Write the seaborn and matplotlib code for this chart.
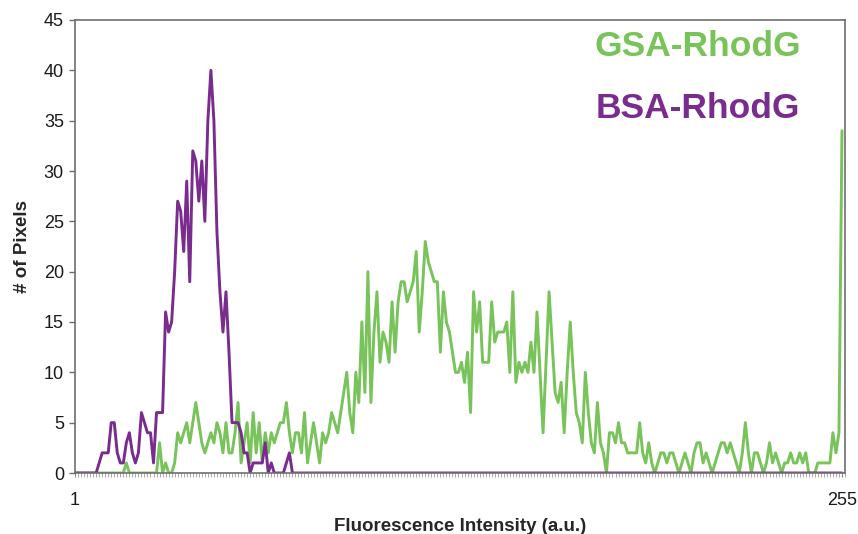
import numpy as np
import pandas as pd
import matplotlib
matplotlib.use("Agg")
import matplotlib.pyplot as plt
from matplotlib.ticker import MultipleLocator
import seaborn as sns

# ---- data ----
intensity = list(range(1, 256))

gsa_rhodg = [
    0, 0, 0, 0, 0, 0, 0, 0, 0, 0,
    0, 0, 0, 0, 0, 0, 0, 1, 0, 0,
    0, 0, 0, 0, 0, 0, 0, 0, 3, 0,
    1, 0, 0, 1, 4, 3, 4, 5, 3, 5,
    7, 5, 3, 2, 3, 4, 3, 5, 4, 2,
    5, 2, 2, 4, 7, 1, 3, 5, 1, 6,
    2, 5, 1, 4, 2, 4, 3, 4, 5, 5,
    7, 4, 2, 4, 4, 2, 6, 1, 3, 5,
    3, 1, 4, 3, 4, 6, 5, 4, 6, 8,
    10, 6, 4, 10, 7, 15, 8, 20, 7, 14,
    18, 11, 14, 13, 11, 17, 12, 17, 19, 19,
    17, 18, 19, 22, 14, 18, 23, 21, 20, 19,
    19, 12, 18, 15, 14, 12, 10, 10, 11, 9,
    12, 6, 18, 14, 17, 11, 11, 11, 17, 13,
    14, 14, 14, 15, 10, 18, 9, 11, 10, 11,
    10, 13, 10, 16, 10, 4, 11, 18, 13, 8,
    7, 9, 4, 10, 15, 10, 6, 5, 3, 10,
    6, 3, 2, 7, 3, 2, 0, 4, 4, 3,
    5, 3, 3, 2, 2, 2, 2, 5, 2, 1,
    3, 1, 0, 1, 2, 2, 1, 2, 2, 1,
    0, 1, 2, 1, 0, 2, 3, 3, 1, 2,
    1, 0, 1, 2, 3, 3, 2, 3, 2, 1,
    0, 2, 5, 2, 0, 2, 2, 1, 0, 1,
    3, 1, 2, 1, 0, 1, 1, 2, 1, 1,
    2, 1, 2, 0, 0, 0, 1, 1, 1, 1,
    1, 4, 2, 4, 34,
]

bsa_rhodg = [
    0, 0, 0, 0, 0, 0, 0, 0, 1, 2,
    2, 2, 5, 5, 2, 1, 1, 3, 4, 2,
    1, 2, 6, 5, 4, 4, 1, 6, 6, 6,
    16, 14, 15, 20, 27, 26, 22, 29, 19, 32,
    31, 27, 31, 25, 35, 40, 35, 24, 18, 14,
    18, 12, 5, 5, 5, 4, 2, 2, 0, 1,
    1, 1, 1, 3, 0, 1, 0, 0, 0, 0,
    1, 2, 0,
] + [0] * (255 - 73)

series_names = ["GSA-RhodG", "BSA-RhodG"]
x_tick_labels = ["1", "255"]
y_ticks = list(range(0, 50, 5))

GREEN = "#78c35a"
PURPLE = "#7a2b8e"
FRAME = "#6e6e6e"

sns.set_style("white")
plt.rcParams["font.family"] = ["Liberation Sans", "DejaVu Sans"]

df = pd.DataFrame({"Intensity": intensity, "GSA": gsa_rhodg, "BSA": bsa_rhodg})

fig = plt.figure(figsize=(8.58, 5.34), dpi=100)
ax = fig.add_axes([75 / 858, 1 - 473 / 534, 770 / 858, 453 / 534])

sns.lineplot(data=df, x="Intensity", y="GSA", color=GREEN, lw=2.1, ax=ax)
sns.lineplot(data=df, x="Intensity", y="BSA", color=PURPLE, lw=2.1, ax=ax)

ax.set_xlim(1, 256)
ax.set_ylim(0, 45)
ax.set_xticks([1, 255])
ax.set_xticklabels(x_tick_labels)
ax.xaxis.set_minor_locator(MultipleLocator(1))
ax.set_yticks(y_ticks)

for s in ax.spines.values():
    s.set_color(FRAME)
    s.set_linewidth(1.2)

ax.tick_params(axis="y", which="major", direction="out", length=4, width=1,
               color=FRAME, pad=4, labelsize=13, labelcolor="#1a1a1a", left=True)
ax.tick_params(axis="x", which="major", direction="out", length=3, width=0.6,
               color=FRAME, pad=11, labelsize=13, labelcolor="#1a1a1a", bottom=True)
ax.tick_params(axis="x", which="minor", direction="out", length=3, width=0.5,
               color="#888888", bottom=True)

ax.set_xlabel("Fluorescence Intensity (a.u.)", fontsize=13.5, fontweight="bold", labelpad=6)
ax.set_ylabel("# of Pixels", fontsize=13.5, fontweight="bold", labelpad=9)

ax.text(173, 42.4, series_names[0], color=GREEN, fontsize=25.5, fontweight="bold",
        ha="left", va="center")
ax.text(173.5, 36.2, series_names[1], color=PURPLE, fontsize=25.5, fontweight="bold",
        ha="left", va="center")

fig.savefig("out.png", dpi=100, facecolor="white")
